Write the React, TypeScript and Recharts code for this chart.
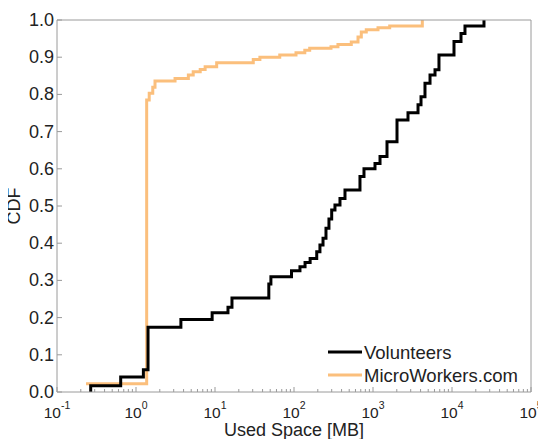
import React from 'react';
import { LineChart, Line, XAxis, YAxis, Legend } from 'recharts';

// Volunteers: used space [MB] where the CDF steps, and the CDF value after the step
const volunteersSize = [0.267, 0.267, 0.64, 1.24, 1.42, 3.7, 9.2, 14.6, 16.4, 48, 51, 93, 119, 138, 160, 194, 213, 233, 254, 277, 300, 330, 382, 442, 684, 769, 1060, 1227, 1504, 2013, 2773, 3715, 4053, 4550, 5270, 6095, 6840, 10600, 13000, 14600, 25400];
const volunteersCdf = [0, 0.017, 0.04, 0.06, 0.174, 0.195, 0.213, 0.228, 0.253, 0.29, 0.31, 0.326, 0.337, 0.348, 0.359, 0.377, 0.395, 0.413, 0.44, 0.465, 0.489, 0.503, 0.52, 0.543, 0.579, 0.6, 0.614, 0.633, 0.673, 0.731, 0.751, 0.772, 0.794, 0.83, 0.852, 0.866, 0.906, 0.942, 0.964, 0.984, 1.0];

// MicroWorkers.com
const microSize = [0.233, 1.365, 1.47, 1.63, 1.74, 3.12, 4.6, 5.3, 6.5, 7.5, 10.5, 30.5, 37, 66, 106, 137, 158, 294, 360, 531, 646, 711, 822, 1157, 1627, 4210];
const microCdf = [0.022, 0.785, 0.803, 0.819, 0.836, 0.843, 0.852, 0.861, 0.867, 0.874, 0.885, 0.894, 0.9, 0.906, 0.912, 0.919, 0.924, 0.928, 0.934, 0.941, 0.954, 0.968, 0.974, 0.979, 0.984, 1.0];

const decades = [0.1, 1, 10, 100, 1000, 10000];
const minorSteps = [1, 2, 3, 4, 5, 6, 7, 8, 9];
const xTicks = [...decades.flatMap(d => minorSteps.map(m => d * m)), 100000];
const yTicks = [0, 0.1, 0.2, 0.3, 0.4, 0.5, 0.6, 0.7, 0.8, 0.9, 1.0];

const FONT = '"Liberation Sans", Arial, Helvetica, sans-serif';
const AXIS = '#9a9a9a';
const TEXT = '#222';
const BLACK = '#000000';
const ORANGE = '#fbbf7c';

const volunteers = volunteersSize.map((x, i) => ({ x, y: volunteersCdf[i] }));
const micro = microSize.map((x, i) => ({ x, y: microCdf[i] }));

const series = [
  { name: 'Volunteers', color: BLACK },
  { name: 'MicroWorkers.com', color: ORANGE },
];

const isMajor = (v: number) => {
  const e = Math.log10(v);
  return Math.abs(e - Math.round(e)) < 1e-6;
};

const BottomTick = ({ x, y, payload }: any) => {
  const v = payload.value;
  const major = isMajor(v);
  return (
    <g>
      <line x1={x} y1={y} x2={x} y2={y - (major ? 5 : 3)} stroke={AXIS} />
      {major && (
        <text x={x} y={y + 26} textAnchor="middle" fontFamily={FONT} fontSize={15.5} fill={TEXT}>
          10<tspan dy={-9} fontSize={10.5}>{Math.round(Math.log10(v))}</tspan>
        </text>
      )}
    </g>
  );
};

const TopTick = ({ x, y, payload }: any) => (
  <line x1={x} y1={y} x2={x} y2={y + (isMajor(payload.value) ? 5 : 3)} stroke={AXIS} />
);

const LeftTick = ({ x, y, payload }: any) => (
  <g>
    <line x1={x} y1={y} x2={x + 5} y2={y} stroke={AXIS} />
    <text x={x - 3} y={y + 6} textAnchor="end" fontFamily={FONT} fontSize={18} fill={TEXT}>
      {payload.value.toFixed(1)}
    </text>
  </g>
);

const RightTick = ({ x, y }: any) => (
  <line x1={x} y1={y} x2={x - 5} y2={y} stroke={AXIS} />
);

const LegendContent = () => (
  <div style={{ fontFamily: FONT, fontSize: 18.5, color: TEXT, lineHeight: '23px' }}>
    {series.map(s => (
      <div key={s.name} style={{ display: 'flex', alignItems: 'center', whiteSpace: 'nowrap' }}>
        <svg width={36} height={10}>
          <line x1={0} y1={5} x2={34} y2={5} stroke={s.color} strokeWidth={3} />
        </svg>
        <span>{s.name}</span>
      </div>
    ))}
  </div>
);

export default function App() {
  return (
    <div style={{ width: 546, height: 439, marginLeft: -8, marginTop: -8, background: '#fff' }}>
      <LineChart width={546} height={439} margin={{ top: 0, right: 0, bottom: 0, left: 0 }} style={{ overflow: 'visible' }}>
        <XAxis
          dataKey="x"
          type="number"
          scale="log"
          domain={[0.1, 100000]}
          ticks={xTicks}
          interval={0}
          height={47}
          tickSize={0}
          tickMargin={0}
          tickLine={false}
          axisLine={{ stroke: AXIS }}
          tick={<BottomTick />}
          label={() => (
            <text x={294} y={436} textAnchor="middle" fontFamily={FONT} fontSize={18} fill={TEXT}>
              Used Space [MB]
            </text>
          )}
        />
        <XAxis
          xAxisId="top"
          orientation="top"
          dataKey="x"
          type="number"
          scale="log"
          domain={[0.1, 100000]}
          ticks={xTicks}
          interval={0}
          height={20}
          tickSize={0}
          tickMargin={0}
          tickLine={false}
          axisLine={{ stroke: AXIS }}
          tick={<TopTick />}
        />
        <YAxis
          type="number"
          domain={[0, 1]}
          ticks={yTicks}
          interval={0}
          width={57}
          tickSize={0}
          tickMargin={0}
          tickLine={false}
          axisLine={{ stroke: AXIS }}
          tick={<LeftTick />}
          label={() => (
            <text x={20} y={206} transform="rotate(-90 20 206)" textAnchor="middle" fontFamily={FONT} fontSize={18} fill={TEXT}>
              CDF
            </text>
          )}
        />
        <YAxis
          yAxisId="right"
          orientation="right"
          type="number"
          domain={[0, 1]}
          ticks={yTicks}
          interval={0}
          width={15}
          tickSize={0}
          tickMargin={0}
          tickLine={false}
          axisLine={{ stroke: AXIS }}
          tick={<RightTick />}
        />
        <Legend
          layout="vertical"
          align="center"
          verticalAlign="middle"
          wrapperStyle={{ left: 328, top: 340.5, width: 'auto', height: 'auto' }}
          content={<LegendContent />}
        />
        <Line
          data={micro}
          dataKey="y"
          name="MicroWorkers.com"
          type="stepAfter"
          stroke={ORANGE}
          strokeWidth={3}
          dot={false}
          activeDot={false}
          isAnimationActive={false}
        />
        <Line
          data={volunteers}
          dataKey="y"
          name="Volunteers"
          type="stepAfter"
          stroke={BLACK}
          strokeWidth={3}
          dot={false}
          activeDot={false}
          isAnimationActive={false}
        />
      </LineChart>
    </div>
  );
}
